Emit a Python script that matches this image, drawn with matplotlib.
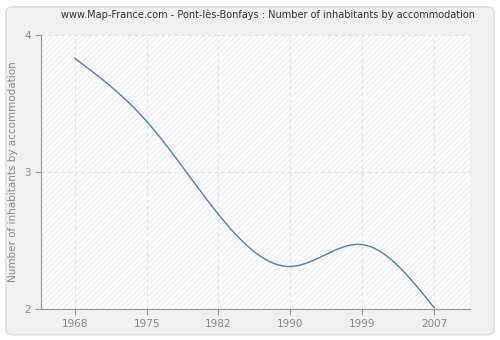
import numpy as np
import matplotlib
matplotlib.use("Agg")
import matplotlib.pyplot as plt
from matplotlib.patches import FancyBboxPatch

years = ["1968", "1975", "1982", "1990", "1999", "2007"]
values = [3.83, 3.37, 2.69, 2.31, 2.47, 2.01]
yticks = [2, 3, 4]

def natural_spline(x, y, xs):
    x = np.asarray(x, float); y = np.asarray(y, float)
    n = len(x)
    h = np.diff(x)
    A = np.zeros((n, n)); b = np.zeros(n)
    A[0, 0] = 1; A[-1, -1] = 1
    for i in range(1, n - 1):
        A[i, i - 1] = h[i - 1]; A[i, i] = 2 * (h[i - 1] + h[i]); A[i, i + 1] = h[i]
        b[i] = 3 * ((y[i + 1] - y[i]) / h[i] - (y[i] - y[i - 1]) / h[i - 1])
    c = np.linalg.solve(A, b)
    out = np.empty_like(xs)
    for k, xv in enumerate(xs):
        i = min(max(np.searchsorted(x, xv) - 1, 0), n - 2)
        dx = xv - x[i]
        bi = (y[i + 1] - y[i]) / h[i] - h[i] * (2 * c[i] + c[i + 1]) / 3
        di = (c[i + 1] - c[i]) / (3 * h[i])
        out[k] = y[i] + bi * dx + c[i] * dx ** 2 + di * dx ** 3
    return out

fig = plt.figure(figsize=(5.0, 3.4), dpi=100)
fig.patch.set_facecolor("white")
bg = FancyBboxPatch((0.012, 0.015), 0.976, 0.965, boxstyle="round,pad=0,rounding_size=0.015",
                    transform=fig.transFigure, facecolor="#f0f0f0", edgecolor="#dcdcdc", lw=1,
                    zorder=-10)
fig.patches.append(bg)

ax = fig.add_axes([41/500, 1-309/340, (470-41)/500, (309-35)/340])
ax.set_facecolor("#fdfdfd")
ax.add_patch(plt.Rectangle((0, 0), 1, 1, transform=ax.transAxes, facecolor="none",
                           edgecolor="#f1f1f1", hatch="//////", lw=0, zorder=0))

xi = np.arange(len(years))
xs = np.linspace(0, len(years) - 1, 300)
ax.plot(xs, natural_spline(xi, values, xs), color="#4f7cb5", lw=1.0, zorder=3)

ax.set_xlim(-0.47, 5.5)
ax.set_ylim(2, 4)
ax.set_xticks(xi)
ax.set_xticklabels(years)
ax.set_yticks(yticks)
ax.grid(True, color="#e0e0e0", ls=(0, (3, 3)), lw=0.8)
for s in ["top", "right"]:
    ax.spines[s].set_visible(False)
for s in ["left", "bottom"]:
    ax.spines[s].set_color("#999999")
ax.tick_params(colors="#999999", labelcolor="#888888", labelsize=7.5, length=4)
ax.set_ylabel("Number of inhabitants by accommodation", color="#888888", fontsize=7.5)
fig.text(268/500, 1-15/340, "www.Map-France.com - Pont-lès-Bonfays : Number of inhabitants by accommodation",
         ha="center", va="center", fontsize=7.0, color="#333333")
fig.savefig("out.png", dpi=100, facecolor=fig.get_facecolor())
